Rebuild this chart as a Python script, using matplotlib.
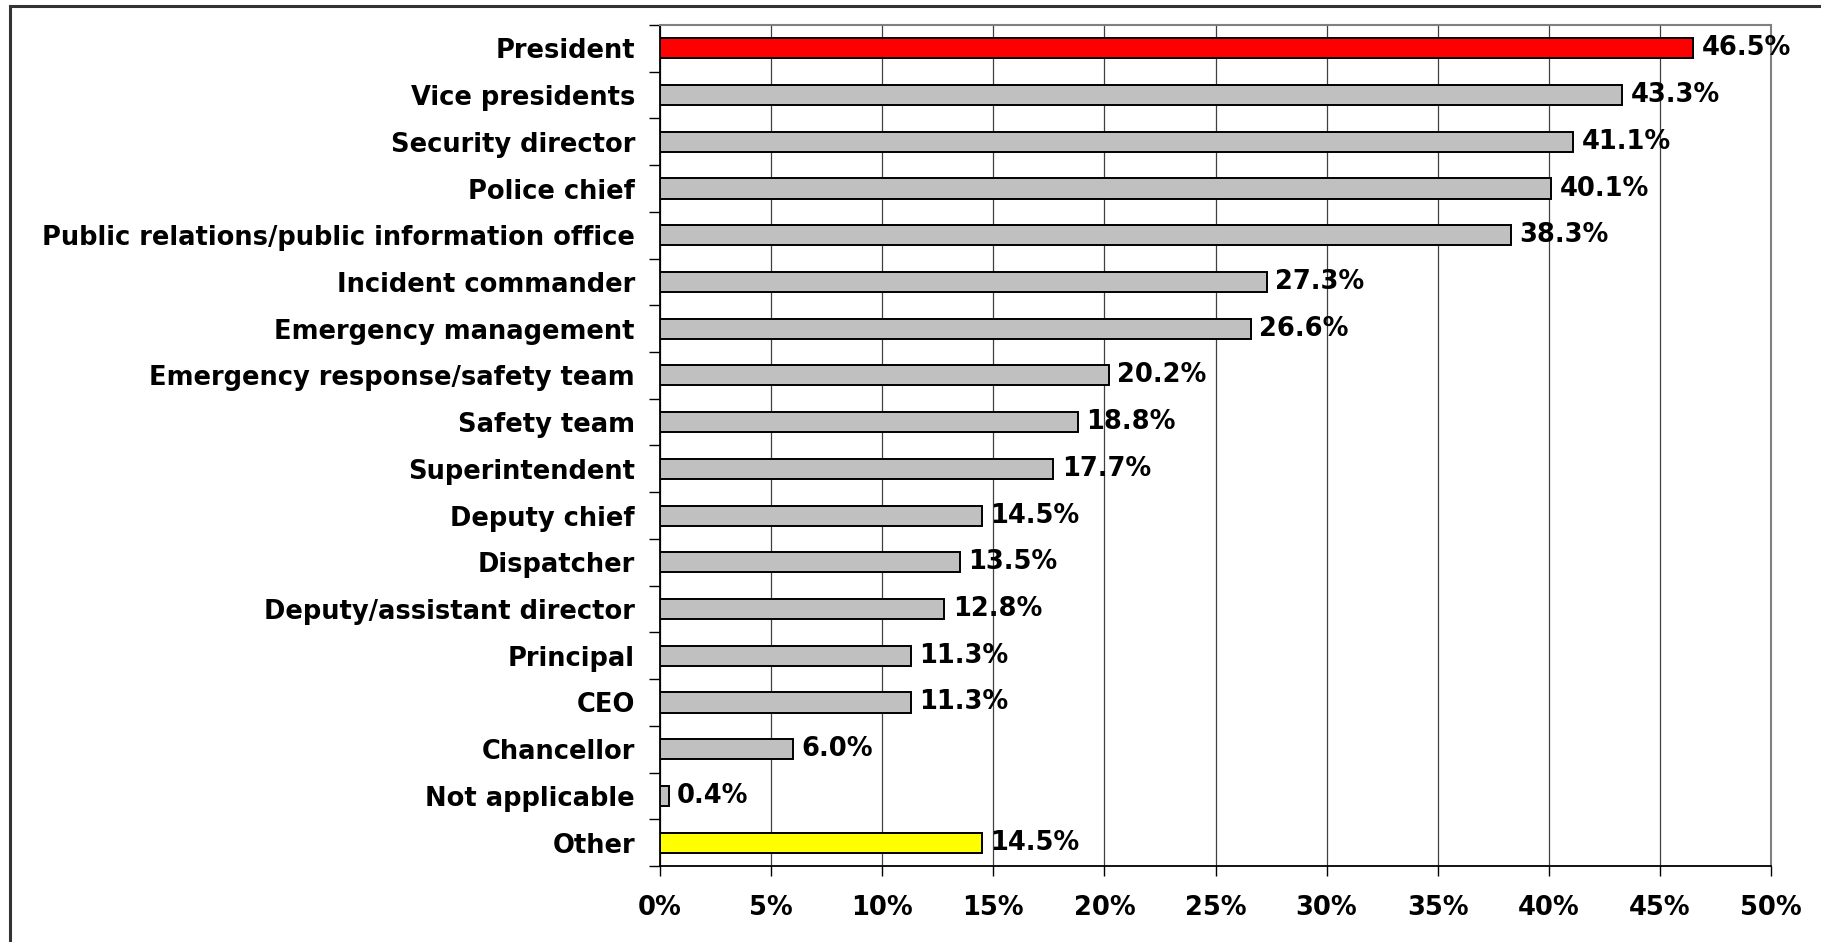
import matplotlib
matplotlib.use("Agg")
import matplotlib.pyplot as plt
from matplotlib.patches import Rectangle
from matplotlib.ticker import FixedLocator, FuncFormatter
import numpy as np

categories = ["President", "Vice presidents", "Security director", "Police chief",
              "Public relations/public information office", "Incident commander",
              "Emergency management", "Emergency response/safety team", "Safety team",
              "Superintendent", "Deputy chief", "Dispatcher", "Deputy/assistant director",
              "Principal", "CEO", "Chancellor", "Not applicable", "Other"]
values = [46.5, 43.3, 41.1, 40.1, 38.3, 27.3, 26.6, 20.2, 18.8, 17.7, 14.5, 13.5,
          12.8, 11.3, 11.3, 6.0, 0.4, 14.5]
bar_colors = ["#FF0000"] + ["#C0C0C0"] * 16 + ["#FFFF00"]
xticks = [0, 5, 10, 15, 20, 25, 30, 35, 40, 45, 50]

plt.rcParams['font.family'] = ['DejaVu Sans']
plt.rcParams['font.weight'] = 'bold'
FS = 18.5

W, H = 1821, 942
fig = plt.figure(figsize=(W / 100, H / 100), dpi=100)
ax = fig.add_axes([660 / W, 1 - 866 / H, (1771 - 660) / W, (866 - 25) / H])

n = len(categories)
y = np.arange(n)
ax.barh(y, values, height=0.43, color=bar_colors, edgecolor="black", linewidth=1.4, zorder=3)

for yi, v in zip(y, values):
    ax.annotate(f"{v:.1f}%", xy=(v, yi), xytext=(6, 0), textcoords="offset points",
                va="center", ha="left", fontsize=FS, fontweight="bold", zorder=4)

ax.set_xlim(0, 50)
ax.set_ylim(n - 0.5, -0.5)
ax.set_xticks(xticks)
ax.xaxis.set_major_formatter(FuncFormatter(lambda v, p: f"{v:.0f}%"))
ax.tick_params(axis="x", direction="out", length=7, width=1, pad=14, labelsize=FS, colors="black")
ax.set_yticks(y)
ax.set_yticklabels(categories, fontsize=FS, fontweight="bold")
ax.tick_params(axis="y", which="major", length=0, pad=18)
ax.yaxis.set_minor_locator(FixedLocator(np.arange(-0.5, n, 1.0)))
ax.tick_params(axis="y", which="minor", direction="out", length=8, width=1, color="black")

ax.grid(axis="x", color="#404040", linewidth=0.9, zorder=0)
ax.set_axisbelow(True)
for s in ["top", "right"]:
    ax.spines[s].set_color("#808080")
    ax.spines[s].set_linewidth(1.5)
for s in ["left", "bottom"]:
    ax.spines[s].set_color("black")
    ax.spines[s].set_linewidth(1.3)

border = Rectangle((10 / W, -0.1), 1.2, 1.1 - 6 / H, transform=fig.transFigure,
                   fill=False, edgecolor="#333333", linewidth=2.2)
fig.patches.append(border)

fig.savefig("out.png", dpi=100, facecolor="white")
